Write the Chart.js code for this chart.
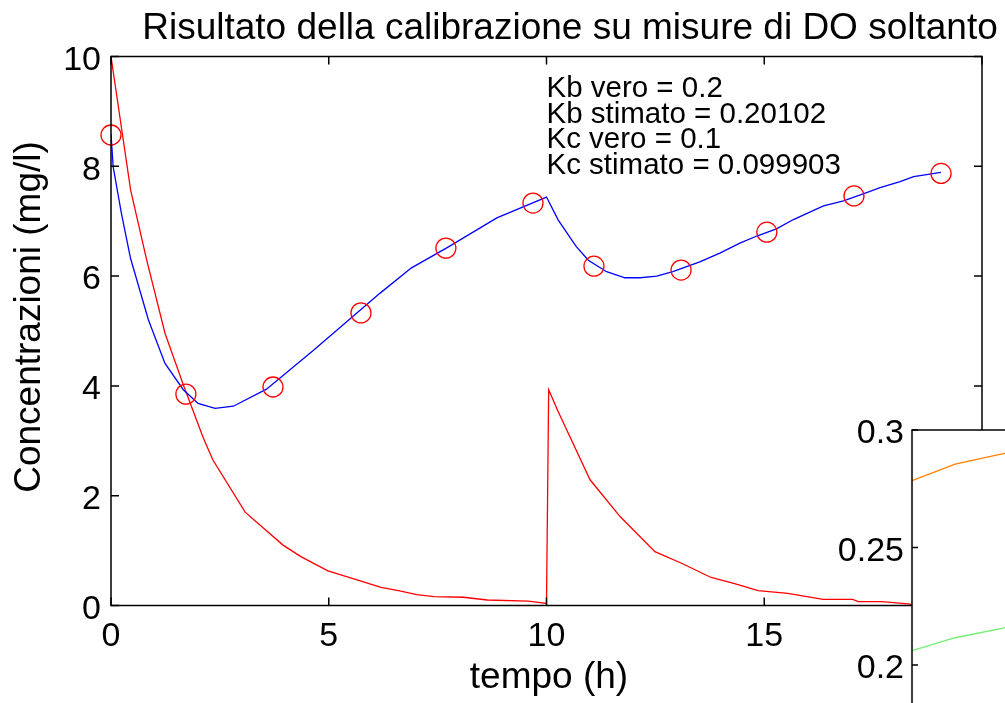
<!DOCTYPE html>
<html>
<head>
<meta charset="utf-8">
<title>Calibrazione DO</title>
<script src="https://cdn.jsdelivr.net/npm/chart.js@4/dist/chart.umd.min.js"></script>
<style>
  html, body { margin: 0; padding: 0; background: #fff; overflow: hidden; }
  #wrap { position: relative; width: 1005px; height: 703px; overflow: hidden; background: #fff; }
  #main { position: absolute; left: 0; top: 0; width: 1005px; height: 703px; }
  #inset { position: absolute; left: 830px; top: 400px; width: 980px; height: 420px; }
</style>
</head>
<body>
<div id="wrap">
  <canvas id="main" width="1005" height="703"></canvas>
  <canvas id="inset" width="980" height="420"></canvas>
</div>
<script>
const FONT = '"Liberation Sans", Arial, Helvetica, sans-serif';

// misure di DO (h, mg/l)
const misureT  = [0, 1.72, 3.72, 5.74, 7.69, 9.69, 11.09, 13.09, 15.06, 17.06, 19.06];
const misureDO = [8.57, 3.85, 3.98, 5.33, 6.51, 7.33, 6.18, 6.11, 6.80, 7.46, 7.87];

// DO simulato con i parametri stimati
const doT   = [0, 0.05, 0.24, 0.45, 0.86, 1.24, 1.66, 2.0, 2.39, 2.81, 3.57, 4.65, 6.18, 6.9, 7.7, 8.86, 10.0,
               10.27, 10.68, 10.96, 11.38, 11.8, 12.15, 12.53, 12.9, 13.52, 13.98, 14.44, 14.83, 15.28, 15.67,
               16.36, 16.82, 17.35, 17.66, 18.12, 18.43, 19.06];
const doSim = [8.59, 7.99, 7.14, 6.32, 5.2, 4.41, 3.93, 3.68, 3.59, 3.63, 3.94, 4.65, 5.69, 6.15, 6.51, 7.06, 7.44,
               7.02, 6.54, 6.29, 6.08, 5.97, 5.97, 6.0, 6.08, 6.26, 6.42, 6.6, 6.73, 6.86, 7.03,
               7.28, 7.37, 7.52, 7.61, 7.72, 7.81, 7.89];

// BOD simulato (ricarica a t = 10 h)
const bodT   = [0, 0.45, 0.82, 1.24, 1.66, 2.12, 2.34, 3.08, 3.95, 4.36, 4.98, 5.52, 6.2, 6.6, 7.02, 7.42, 8.09,
                8.64, 9.58, 9.99, 10.0, 10.05, 10.27, 11.0, 11.69, 12.49, 13.1, 13.78, 14.32, 14.86, 15.54,
                16.35, 17.03, 17.16, 17.7, 18.3, 18.4];
const bodSim = [10, 7.57, 6.29, 4.96, 4.02, 3.05, 2.65, 1.70, 1.10, 0.89, 0.63, 0.50, 0.33, 0.27, 0.20, 0.16, 0.15,
                0.10, 0.08, 0.04, 0.03, 3.93, 3.53, 2.29, 1.62, 0.98, 0.77, 0.51, 0.40, 0.27, 0.22,
                0.11, 0.11, 0.07, 0.07, 0.03, 0.02];

// riquadro secondario: andamento dei parametri
const parT  = [0, 0.99, 2.15];
const parKb = [0.2784, 0.2855, 0.2902];
const parKc = [0.2061, 0.2116, 0.2159];

const xTicks = [0, 5, 10, 15, 20];
const yTicks = [0, 2, 4, 6, 8, 10];
const insetTicks = [0.2, 0.25, 0.3];

const testo = ['Kb vero = 0.2', 'Kb stimato = 0.20102', 'Kc vero = 0.1', 'Kc stimato = 0.099903'];

const pts = (xs, ys) => xs.map((x, i) => ({ x, y: ys[i] }));

// box con tacche verso l'interno, stile matlab
function drawBox(chart, xt, yt, len) {
  const { ctx, chartArea: a, scales } = chart;
  ctx.save();
  ctx.strokeStyle = '#000';
  ctx.lineWidth = 1.5;
  ctx.strokeRect(a.left, a.top, a.right - a.left, a.bottom - a.top);
  ctx.beginPath();
  xt.forEach(v => {
    const px = scales.x.getPixelForValue(v);
    ctx.moveTo(px, a.bottom); ctx.lineTo(px, a.bottom - len);
    ctx.moveTo(px, a.top); ctx.lineTo(px, a.top + len);
  });
  yt.forEach(v => {
    const py = scales.y.getPixelForValue(v);
    ctx.moveTo(a.left, py); ctx.lineTo(a.left + len, py);
    ctx.moveTo(a.right, py); ctx.lineTo(a.right - len, py);
  });
  ctx.stroke();
  ctx.restore();
}

const mainDecor = {
  id: 'mainDecor',
  afterDraw(chart) {
    const { ctx, scales } = chart;
    drawBox(chart, xTicks, yTicks, 8);
    ctx.save();
    ctx.fillStyle = '#000';
    ctx.textBaseline = 'alphabetic';

    ctx.font = '37px ' + FONT;
    ctx.textAlign = 'center';
    ctx.fillText('Risultato della calibrazione su misure di DO soltanto', 570, 39);
    ctx.fillText('tempo (h)', 549, 688);

    ctx.save();
    ctx.translate(40, 317);
    ctx.rotate(-Math.PI / 2);
    ctx.fillText('Concentrazioni (mg/l)', 0, 0);
    ctx.restore();

    ctx.font = '29.5px ' + FONT;
    ctx.textAlign = 'left';
    const tx = scales.x.getPixelForValue(10);
    const ty = scales.y.getPixelForValue(9.26);
    testo.forEach((riga, i) => ctx.fillText(riga, tx, ty + i * 25.5));
    ctx.restore();
  }
};

new Chart(document.getElementById('main'), {
  type: 'scatter',
  data: {
    datasets: [
      {
        data: pts(bodT, bodSim), showLine: true, borderColor: '#ff0000', borderWidth: 1.3,
        pointRadius: 0, tension: 0, order: 3
      },
      {
        data: pts(doT, doSim), showLine: true, borderColor: '#0000ff', borderWidth: 1.3,
        pointRadius: 0, tension: 0, order: 2
      },
      {
        data: pts(misureT, misureDO), showLine: false, borderColor: '#ff0000', borderWidth: 1.3,
        backgroundColor: 'rgba(0,0,0,0)', pointRadius: 10, pointStyle: 'circle', order: 1,
        clip: false
      }
    ]
  },
  options: {
    responsive: false,
    animation: false,
    layout: { padding: { left: 0, top: 56.5, right: 23, bottom: 0 } },
    plugins: { legend: { display: false }, tooltip: { enabled: false } },
    scales: {
      x: {
        type: 'linear', min: 0, max: 20,
        grid: { display: false, drawTicks: false },
        border: { display: false },
        afterBuildTicks: s => { s.ticks = xTicks.map(v => ({ value: v })); },
        afterFit: s => { s.height = 97.5; s.paddingRight = 0; s.paddingLeft = 0; },
        ticks: {
          color: '#000', font: { family: FONT, size: 34 }, padding: 11, maxRotation: 0,
          callback: v => (v === 20 ? '' : String(v))  // l'etichetta 20 resta sotto il riquadro
        }
      },
      y: {
        type: 'linear', min: 0, max: 10,
        grid: { display: false, drawTicks: false },
        border: { display: false },
        afterBuildTicks: s => { s.ticks = yTicks.map(v => ({ value: v })); },
        afterFit: s => { s.width = 111; },
        ticks: { color: '#000', font: { family: FONT, size: 34 }, padding: 10, labelOffset: 4 }
      }
    }
  },
  plugins: [mainDecor]
});

const insetDecor = {
  id: 'insetDecor',
  beforeDraw(chart) {
    const { ctx, chartArea: a } = chart;
    ctx.save();
    ctx.fillStyle = '#fff';
    ctx.fillRect(a.left, a.top, a.right - a.left, a.bottom - a.top);
    ctx.restore();
  },
  afterDraw(chart) {
    drawBox(chart, [], insetTicks, 6);
  }
};

new Chart(document.getElementById('inset'), {
  type: 'scatter',
  data: {
    datasets: [
      { data: pts(parT, parKb), showLine: true, borderColor: '#ff8000', borderWidth: 1.3, pointRadius: 0 },
      { data: pts(parT, parKc), showLine: true, borderColor: '#70f070', borderWidth: 1.3, pointRadius: 0 }
    ]
  },
  options: {
    responsive: false,
    animation: false,
    layout: { padding: { left: 0, top: 30, right: 27, bottom: 37.5 } },
    plugins: { legend: { display: false }, tooltip: { enabled: false } },
    scales: {
      x: { type: 'linear', min: 0, max: 20, display: false },
      y: {
        type: 'linear', min: 0.15, max: 0.3,
        grid: { display: false, drawTicks: false },
        border: { display: false },
        afterBuildTicks: s => { s.ticks = insetTicks.map(v => ({ value: v })); },
        afterFit: s => { s.width = 82; },
        ticks: {
          color: '#000', font: { family: FONT, size: 34 }, padding: 8, labelOffset: 4,
          callback: v => String(+v.toFixed(2))
        }
      }
    }
  },
  plugins: [insetDecor]
});
</script>
</body>
</html>
